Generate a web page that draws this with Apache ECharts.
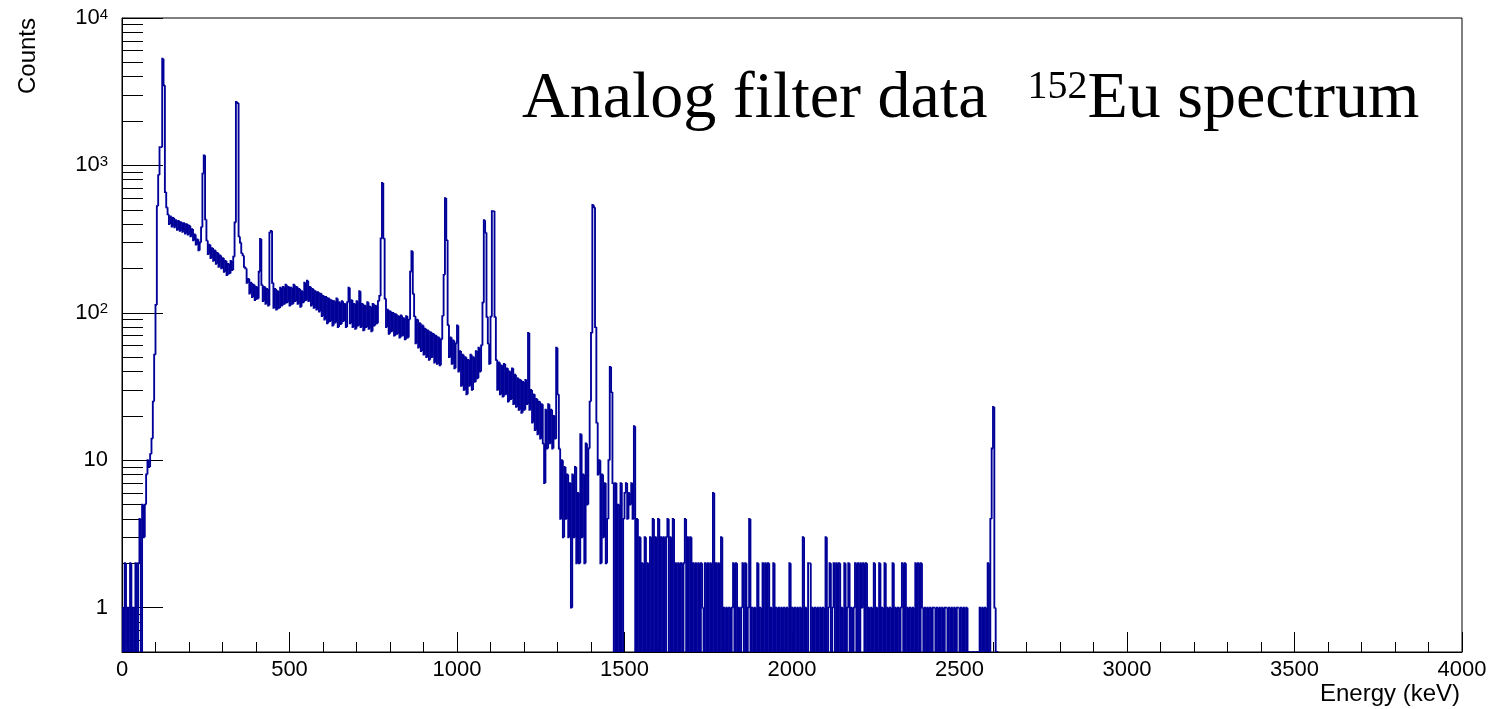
<!DOCTYPE html>
<html><head><meta charset="utf-8">
<script src="https://cdn.jsdelivr.net/npm/echarts@6/dist/echarts.min.js"></script>
<style>html,body{margin:0;padding:0;background:#fff}#c{width:1493px;height:709px}</style>
</head><body><div id="c"></div>
<script>
// Histogram: 4 keV bins, bin i covers [4i, 4i+4) keV
const BIN_WIDTH = 4;
const seg0 = [ // 0 - 396 keV
  1,0,2,0,1,0,2,0,1,0,
  2,0,2,4,0,5,3,5,8,10,
  9,11,14,25,52,113,530,860,1330,1330,
  5300,3500,660,520,465,400,450,385,440,380,
  425,365,420,360,410,355,405,345,400,340,
  390,330,370,310,340,290,315,265,300,380,
  880,1170,430,310,250,290,235,275,225,265,
  215,255,205,245,200,235,190,225,180,215,
  185,225,195,240,410,2700,2650,330,300,255,
  245,205,200,160,170,135,160,128,155,122];
const seg1 = [ // 400 - 796 keV
  150,125,190,317,155,120,150,115,145,112,
  350,360,160,108,145,105,140,108,148,112,
  150,115,155,118,150,112,148,115,155,120,
  150,115,145,110,140,118,160,122,165,120,
  150,112,145,108,140,105,138,102,135,95,
  130,90,128,85,125,88,122,82,120,86,
  125,80,118,84,120,88,115,80,118,148,
  85,122,80,115,78,120,82,140,80,115,
  76,112,80,118,78,110,75,115,82,112,
  85,120,130,320,760,320,125,80,105,72];
const seg2 = [ // 800 - 1196 keV
  102,75,100,70,98,72,95,68,96,70,
  92,66,95,68,90,190,262,135,95,62,
  90,58,85,55,82,52,78,50,76,48,
  74,50,72,46,70,45,68,44,66,95,
  181,600,312,83,50,68,45,65,42,62,
  82,40,55,32,52,30,50,28,48,32,
  52,30,50,34,55,36,58,40,60,117,
  425,350,94,62,45,94,490,490,94,48,
  30,46,28,44,27,45,28,42,25,40,
  26,42,24,38,23,36,22,35,21,34];
const seg3 = [ // 1200 - 1596 keV
  22,35,24,73,22,30,18,28,16,26,
  15,25,14,24,13,7,22,12,24,13,
  22,12,20,14,58,28,12,4,10,3,
  9,4,8,3,7,1,8,3,9,2,
  6,2,15,3,8,2,13,5,12,25,
  73,540,520,80,18,8,10,2,8,3,
  7,2,4,10,43,29,7,0,7,0,
  5,0,7,0,4,6,7,4,6,5,
  7,4,17,0,4,0,3,0,2,0,
  3,0,2,0,3,0,4,0,3,0];
const seg4 = [ // 1600 - 1996 keV
  4,0,3,0,3,0,3,4,0,3,
  0,4,0,2,0,2,0,2,0,2,
  4,0,3,0,3,0,2,0,2,0,
  2,0,2,1,0,2,0,2,0,2,
  0,6,0,2,0,2,0,3,0,1,
  0,1,0,1,0,1,2,0,2,0,
  1,0,1,2,0,2,0,1,4,0,
  1,0,1,0,2,0,1,0,2,0,
  2,0,2,0,1,0,2,0,1,0,
  1,0,1,0,1,0,1,0,2,0];
const seg5 = [ // 2000 - 2396 keV
  1,0,1,0,1,0,1,0,3,0,
  1,0,2,2,0,1,0,1,0,1,
  0,1,0,1,0,3,0,1,2,0,
  1,2,0,2,0,2,0,1,0,2,
  0,1,2,0,1,0,1,2,0,2,
  0,2,1,2,0,2,0,1,0,1,
  0,2,0,1,0,2,0,1,0,2,
  0,1,0,1,0,2,0,1,0,1,
  0,1,2,0,2,0,1,0,1,0,
  1,0,2,0,2,0,2,1,0,1];
const seg6 = [ // 2400 - 2608 keV
  0,1,0,1,0,1,1,0,1,0,
  1,0,1,0,1,1,0,1,0,1,
  0,1,0,1,1,0,1,0,1,0,
  1,0,0,0,0,0,0,0,0,0,
  1,0,1,0,1,0,2,0,4,12,
  23,1,0];
const counts = [].concat(seg0, seg1, seg2, seg3, seg4, seg5, seg6);

const xTickLabels = [0, 500, 1000, 1500, 2000, 2500, 3000, 3500, 4000];
const yMajor = [1, 10, 100, 1000, 10000];
const yMajorLabels = ['1', '10', '10^2', '10^3', '10^4'];
const yMinor = [0.6,0.7,0.8,0.9, 2,3,4,5,6,7,8,9, 20,30,40,50,60,70,80,90,
                200,300,400,500,600,700,800,900, 2000,3000,4000,5000,6000,7000,8000,9000];

// each item: [bin low edge, count, previous bin count]
const histData = counts.map((c, i) => [i * BIN_WIDTH, c, i > 0 ? counts[i - 1] : 0]);
histData.push([counts.length * BIN_WIDTH, 0, counts[counts.length - 1]]);

const SANS = 'Liberation Sans';
const SERIF = 'Liberation Serif';
const LINE_COLOR = '#000099';

function yLabel(v) {
  const idx = yMajor.indexOf(Math.round(v));
  const s = idx >= 0 ? yMajorLabels[idx] : '';
  if (s.indexOf('^') > 0) {
    const p = s.split('^');
    return '{b|' + p[0] + '}{e|' + p[1] + '}';
  }
  return '{b|' + s + '}';
}

function renderBin(params, api) {
  const cs = params.coordSys;
  const bottom = cs.y + cs.height;
  const lo = api.value(0), v = api.value(1), pv = api.value(2);
  const yOf = val => val > 0 ? Math.min(api.coord([lo, val])[1], bottom) : bottom;
  const x0 = api.coord([lo, 1])[0];
  const x1 = api.coord([lo + BIN_WIDTH, 1])[0];
  const pts = (v > 0 || pv > 0) ? [[x0, yOf(pv)], [x0, yOf(v)], [x1, yOf(v)]] : [[x0, bottom], [x1, bottom]];
  return {
    type: 'polyline',
    shape: {points: pts},
    style: {stroke: LINE_COLOR, lineWidth: 1.85, fill: null, lineJoin: 'miter'},
    silent: true
  };
}

const chart = echarts.init(document.getElementById('c'), null, {renderer: 'canvas'});
chart.setOption({
  animation: false,
  backgroundColor: '#fff',
  title: {
    text: '{a|Analog filter data  }{s|152}{a|Eu spectrum}',
    left: 517, top: 62,
    textStyle: {
      fontWeight: 'normal',
      rich: {
        a: {fontFamily: SERIF, fontSize: 66, fontWeight: 'normal', color: '#000'},
        s: {fontFamily: SERIF, fontSize: 40, fontWeight: 'normal', color: '#000', verticalAlign: 'top', padding: [0, 0, 0, 7]}
      }
    }
  },
  grid: {left: 122, right: 31, top: 18, bottom: 57, show: true, borderColor: '#000', borderWidth: 1,
         containLabel: false, outerBoundsMode: 'none'},
  xAxis: {
    type: 'value', min: 0, max: 4000, interval: 500,
    name: 'Energy (keV)', nameLocation: 'end', nameGap: 0, nameMoveOverlap: false,
    nameTextStyle: {fontFamily: SANS, fontSize: 24, color: '#000', align: 'right', verticalAlign: 'top', padding: [30, 2, 0, 0]},
    axisLine: {show: true, onZero: false, lineStyle: {color: '#000', width: 1}},
    axisTick: {show: true, inside: true, length: 20, lineStyle: {color: '#000', width: 1}},
    minorTick: {show: true, splitNumber: 5, length: 10, lineStyle: {color: '#000', width: 1}},
    axisLabel: {fontFamily: SANS, fontSize: 22, color: '#000', margin: 7, customValues: xTickLabels,
                formatter: v => String(v)},
    splitLine: {show: false}, minorSplitLine: {show: false}
  },
  yAxis: [{
    type: 'log', logBase: 10, min: 0.5, max: 10000, position: 'left',
    name: 'Counts', nameLocation: 'end', nameGap: 0, nameRotate: 90, nameMoveOverlap: false,
    nameTextStyle: {fontFamily: SANS, fontSize: 24, color: '#000', align: 'right', verticalAlign: 'bottom', padding: [0, 0, 82, 0]},
    axisLine: {show: true, onZero: false, lineStyle: {color: '#000', width: 1}},
    axisTick: {show: true, inside: true, length: 41, customValues: yMajor, lineStyle: {color: '#000', width: 1}},
    axisLabel: {
      customValues: yMajor, margin: 14, formatter: yLabel,
      rich: {
        b: {fontFamily: SANS, fontSize: 22, color: '#000'},
        e: {fontFamily: SANS, fontSize: 15, color: '#000', verticalAlign: 'top'}
      }
    },
    splitLine: {show: false}
  }, {
    type: 'log', logBase: 10, min: 0.5, max: 10000, position: 'left', offset: 0,
    axisLine: {show: false},
    axisTick: {show: true, inside: true, length: 21, customValues: yMinor, lineStyle: {color: '#000', width: 1}},
    axisLabel: {show: false},
    splitLine: {show: false}
  }],
  series: [{
    type: 'custom', yAxisIndex: 0, xAxisIndex: 0,
    data: histData,
    encode: {x: 0, y: 1},
    renderItem: renderBin,
    clip: true
  }]
});
</script>
</body></html>
